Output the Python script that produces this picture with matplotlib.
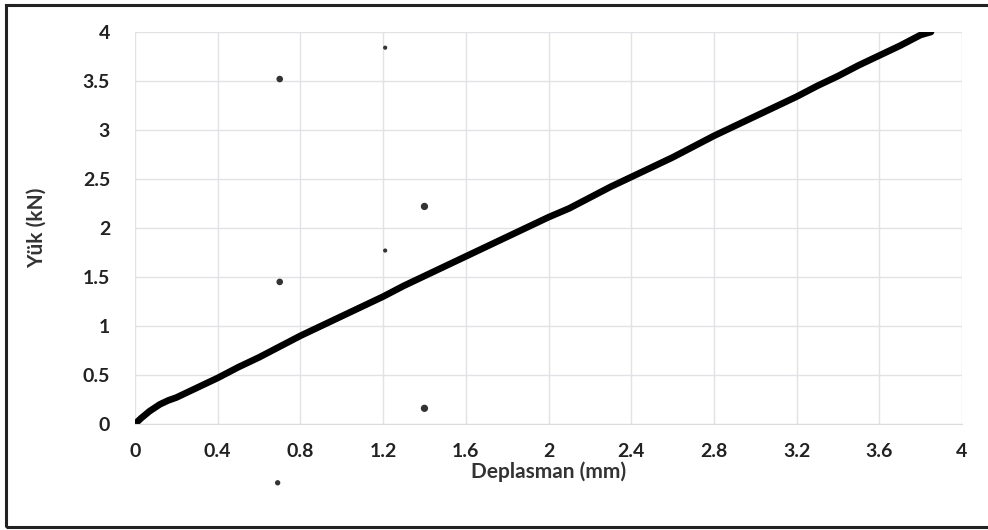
import matplotlib.pyplot as plt
from matplotlib.patches import Rectangle
import numpy as np

plt.rcParams['font.family'] = ['Lato', 'DejaVu Sans']

# load-displacement curve
deplasman = [0.0, 0.03, 0.07, 0.12, 0.16, 0.2, 0.3, 0.4, 0.5, 0.6, 0.7, 0.8, 0.9, 1.0,
             1.1, 1.2, 1.3, 1.4, 1.5, 1.6, 1.7, 1.8, 1.9, 2.0, 2.1, 2.2, 2.3, 2.4,
             2.5, 2.6, 2.7, 2.8, 2.9, 3.0, 3.1, 3.2, 3.3, 3.4, 3.5, 3.6, 3.7, 3.8, 3.85]
yuk = [0.0, 0.06, 0.13, 0.2, 0.24, 0.27, 0.37, 0.47, 0.58, 0.68, 0.79, 0.9, 1.0, 1.1,
       1.2, 1.3, 1.41, 1.51, 1.61, 1.71, 1.81, 1.91, 2.01, 2.11, 2.2, 2.31, 2.42, 2.52,
       2.62, 2.72, 2.83, 2.94, 3.04, 3.14, 3.24, 3.34, 3.45, 3.55, 3.66, 3.76, 3.86, 3.97, 4.0]

# stray dots from the scan
dot_x = [0.70, 0.70, 1.40, 1.40, 1.21, 1.21, 0.69]
dot_y = [3.52, 1.45, 2.22, 0.16, 3.84, 1.77, -0.6]
dot_s = [14, 14, 18, 18, 4, 4, 8]

fig = plt.figure(figsize=(9.88, 5.30), dpi=100)
ax = fig.add_axes([135/988, 1 - 424/530, (962 - 135)/988, (424 - 32)/530])

ax.plot(deplasman, yuk, color='black', lw=4.8, solid_capstyle='round')
ax.scatter(dot_x, dot_y, s=dot_s, color='#333333', clip_on=False, zorder=3)

ax.set_xlim(0, 4)
ax.set_ylim(0, 4)
ax.set_xticks(np.arange(0, 4.01, 0.4))
ax.set_xticklabels(['0', '0.4', '0.8', '1.2', '1.6', '2', '2.4', '2.8', '3.2', '3.6', '4'])
ax.set_yticks(np.arange(0, 4.01, 0.5))
ax.set_yticklabels(['0', '0.5', '1', '1.5', '2', '2.5', '3', '3.5', '4'])
ax.grid(True, color='#e2e2e6', lw=1)
ax.set_axisbelow(True)
for s in ['top', 'right', 'left']:
    ax.spines[s].set_visible(False)
ax.spines['bottom'].set_color('#dcdcdc')
ax.tick_params(axis='x', length=0, labelsize=14, colors='#222222', pad=14)
ax.tick_params(axis='y', length=0, labelsize=14, colors='#222222', pad=18)
for lab in ax.get_xticklabels() + ax.get_yticklabels():
    lab.set_fontweight('bold')

ax.set_xlabel('Deplasman (mm)', fontsize=15, fontweight='bold', color='#333333', labelpad=1)
ax.set_ylabel('Yük (kN)', fontsize=15, fontweight='bold', color='#333333', labelpad=26)

# scan frame
fig.patches.append(Rectangle((6/988, 3/530), 990/988, 522/530, transform=fig.transFigure,
                             fill=False, edgecolor='#222222', lw=2.2))

fig.savefig('out.png', dpi=100)
